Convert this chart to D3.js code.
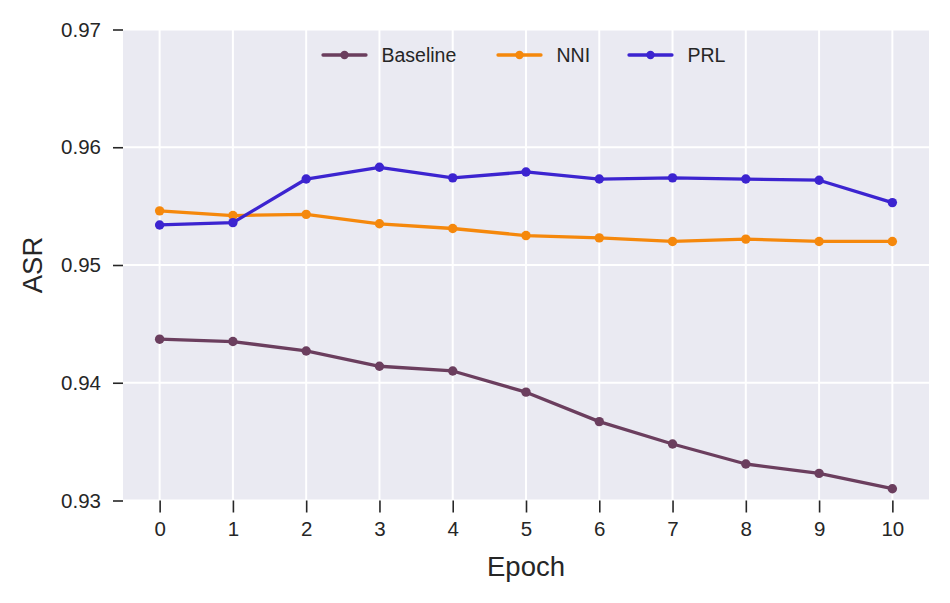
<!DOCTYPE html>
<html>
<head>
<meta charset="utf-8">
<script src="https://cdn.jsdelivr.net/npm/d3@7"></script>
<style>
  body { margin: 0; background: #fff; }
  text { font-family: "Liberation Sans", Arial, sans-serif; fill: #262626; }
</style>
</head>
<body>
<div id="wrapper"></div>
<script>
// data
const epochs = [0, 1, 2, 3, 4, 5, 6, 7, 8, 9, 10]
const baseline = [0.9437, 0.9435, 0.9427, 0.9414, 0.9410, 0.9392, 0.9367, 0.9348, 0.9331, 0.9323, 0.9310]
const nni = [0.9546, 0.9542, 0.9543, 0.9535, 0.9531, 0.9525, 0.9523, 0.9520, 0.9522, 0.9520, 0.9520]
const prl = [0.9534, 0.9536, 0.9573, 0.9583, 0.9574, 0.9579, 0.9573, 0.9574, 0.9573, 0.9572, 0.9553]
const seriesNames = ["Baseline", "NNI", "PRL"]
const yTicks = [0.93, 0.94, 0.95, 0.96, 0.97]

function drawChart() {
  const colors = ["#6b3e5e", "#f5880c", "#3c24d0"]
  const series = [baseline, nni, prl].map((vals, i) => ({
    name: seriesNames[i],
    color: colors[i],
    values: vals.map((v, j) => ({ x: epochs[j], y: v }))
  }))

  // 2. dimensions
  let dimensions = {
    width: 950,
    height: 603,
    margin: { top: 29.5, right: 21, bottom: 102.5, left: 123 },
  }
  dimensions.boundedWidth = dimensions.width - dimensions.margin.left - dimensions.margin.right
  dimensions.boundedHeight = dimensions.height - dimensions.margin.top - dimensions.margin.bottom

  // 3. canvas
  const wrapper = d3.select("#wrapper")
    .append("svg")
      .attr("width", dimensions.width)
      .attr("height", dimensions.height)

  const bounds = wrapper.append("g")
      .attr("transform", `translate(${dimensions.margin.left},${dimensions.margin.top})`)

  // 4. scales
  const xScale = d3.scaleLinear()
    .domain([-0.5, 10.5])
    .range([0, dimensions.boundedWidth])
  const yScale = d3.scaleLinear()
    .domain([0.93, 0.97])
    .range([dimensions.boundedHeight, 0])

  // background + grid
  bounds.append("rect")
    .attr("width", dimensions.boundedWidth)
    .attr("height", dimensions.boundedHeight)
    .attr("fill", "#eaeaf2")

  bounds.append("g").selectAll("line")
    .data(epochs)
    .join("line")
      .attr("x1", d => xScale(d)).attr("x2", d => xScale(d))
      .attr("y1", 0).attr("y2", dimensions.boundedHeight)
      .attr("stroke", "#fff").attr("stroke-width", 2)
  bounds.append("g").selectAll("line")
    .data(yTicks)
    .join("line")
      .attr("x1", 0).attr("x2", dimensions.boundedWidth)
      .attr("y1", d => yScale(d)).attr("y2", d => yScale(d))
      .attr("stroke", "#fff").attr("stroke-width", 2)

  // axes
  const xAxis = d3.axisBottom(xScale)
    .tickValues(epochs)
    .tickSize(12)
    .tickPadding(9)
    .tickFormat(d3.format("d"))
  const xAxisG = bounds.append("g")
    .attr("transform", `translate(0,${dimensions.boundedHeight})`)
    .call(xAxis)
  const yAxis = d3.axisLeft(yScale)
    .tickValues(yTicks)
    .tickSize(10)
    .tickPadding(12)
    .tickFormat(d3.format(".2f"))
  const yAxisG = bounds.append("g").call(yAxis)

  ;[xAxisG, yAxisG].forEach(g => {
    g.select(".domain").remove()
    g.selectAll(".tick line").attr("stroke", "#262626").attr("stroke-width", 1.6)
    g.selectAll(".tick text")
      .style("font-family", '"Liberation Sans", Arial, sans-serif')
      .style("font-size", "20.5px")
      .attr("fill", "#262626")
  })

  // 5. lines
  const line = d3.line()
    .x(d => xScale(d.x))
    .y(d => yScale(d.y))

  const g = bounds.selectAll(".series")
    .data(series)
    .join("g")
      .attr("class", "series")

  g.append("path")
    .attr("d", d => line(d.values))
    .attr("fill", "none")
    .attr("stroke", d => d.color)
    .attr("stroke-width", 3.3)
    .attr("stroke-linejoin", "round")
    .attr("stroke-linecap", "round")

  g.selectAll("circle")
    .data(d => d.values.map(v => ({ ...v, color: d.color })))
    .join("circle")
      .attr("cx", d => xScale(d.x))
      .attr("cy", d => yScale(d.y))
      .attr("r", 4.7)
      .attr("fill", d => d.color)

  // 6. peripherals
  wrapper.append("text")
    .attr("x", dimensions.margin.left + dimensions.boundedWidth / 2)
    .attr("y", 576)
    .attr("text-anchor", "middle")
    .style("font-size", "27.5px")
    .text("Epoch")

  wrapper.append("text")
    .attr("transform", `translate(42,${dimensions.margin.top + dimensions.boundedHeight / 2}) rotate(-90)`)
    .attr("text-anchor", "middle")
    .style("font-size", "27.5px")
    .text("ASR")

  // legend
  const legendX = [323, 498, 629]
  const legend = wrapper.append("g")
    .selectAll("g")
    .data(series)
    .join("g")
      .attr("transform", (d, i) => `translate(${legendX[i]},55)`)
  legend.append("line")
    .attr("x1", 0).attr("x2", 43)
    .attr("stroke", d => d.color)
    .attr("stroke-width", 3.3)
    .attr("stroke-linecap", "round")
  legend.append("circle")
    .attr("cx", 21.5).attr("r", 4.2)
    .attr("fill", d => d.color)
  legend.append("text")
    .attr("x", 58.5)
    .attr("dy", "0.35em")
    .style("font-size", "19.5px")
    .text(d => d.name)
}

drawChart()
</script>
</body>
</html>
